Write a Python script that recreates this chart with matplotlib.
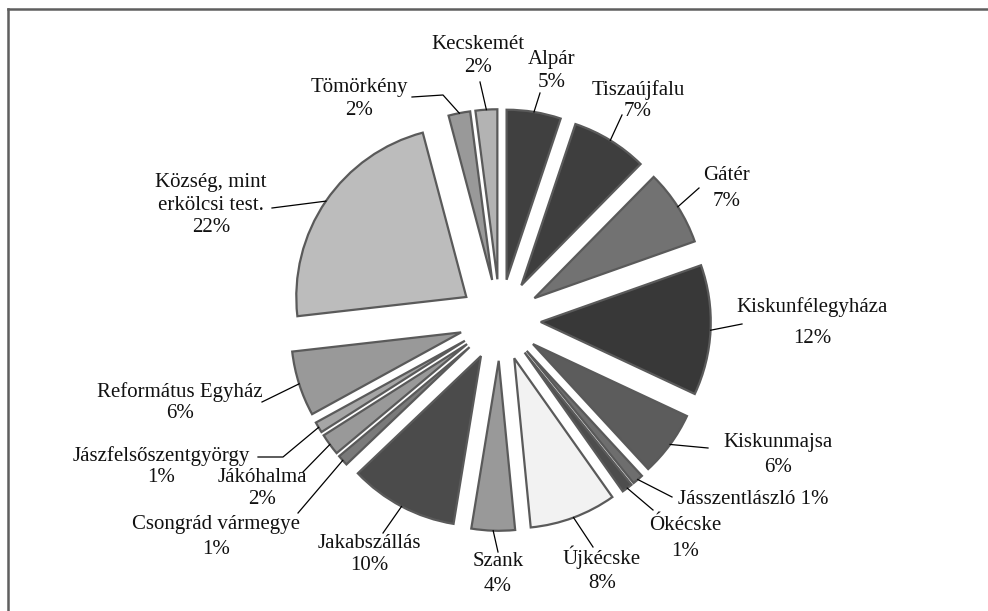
import matplotlib.pyplot as plt
import numpy as np

plt.rcParams['font.family'] = ['Liberation Serif', 'DejaVu Serif']

names = ['Alpár', 'Tiszaújfalu', 'Gátér', 'Kiskunfélegyháza', 'Kiskunmajsa',
         'Jásszentlászló', 'Ókécske', 'Újkécske', 'Szank', 'Jakabszállás',
         'Csongrád vármegye', 'Jákóhalma', 'Jászfelsőszentgyörgy',
         'Református Egyház', 'Község, mint\nerkölcsi test.', 'Tömörkény',
         'Kecskemét']
shares = [5, 7, 7, 12, 6, 1, 1, 8, 4, 10, 1, 2, 1, 6, 22, 2, 2]
colors = ['#404040', '#3e3e3e', '#727272', '#383838', '#5c5c5c', '#6e6e6e',
          '#4d4d4d', '#f2f2f2', '#999999', '#4b4b4b', '#7a7a7a', '#999999',
          '#a6a6a6', '#999999', '#bcbcbc', '#999999', '#b3b3b3']

W, H = 988, 611
CX, CY, R = 500, 320, 170   # pie centre / radius in pixels


def px(x, y):
    # pixel position (from top-left) -> data coords
    return (x - CX) / R, (CY - y) / R


# label layout in pixels: text centre, line step, leader path (end first)
layout = [
    ((552, 71), 23, [(540, 93)]),
    ((638, 101), 22, [(622, 115)]),
    ((727, 189), 26, [(699, 188)]),
    ((812, 323), 31, [(742, 324)]),
    ((778, 455), 24, [(708, 448)]),
    ((753, 500), 23, [(672, 497)]),
    ((685, 539), 26, [(653, 510)]),
    ((602, 570), 26, [(593, 547)]),
    ((498, 574), 25, [(498, 552)]),
    ((369, 554), 22, [(383, 533)]),
    ((216, 537), 25, [(298, 513)]),
    ((262, 489), 22, [(303, 472)]),
    ((161, 467), 21, [(283, 457), (258, 457)]),
    ((180, 403), 21, [(262, 402)]),
    ((211, 205), 22.5, [(272, 208)]),
    ((359, 99), 23, [(443, 95), (412, 97)]),
    ((478, 56), 23, [(480, 82)]),
]

fig = plt.figure(figsize=(W / 100, H / 100), dpi=100)
ax = fig.add_axes([0, 0, 1, 1])

wedges, _ = ax.pie(shares, explode=[0.24] * len(shares), colors=colors,
                   startangle=90, counterclock=False,
                   wedgeprops=dict(edgecolor='#5a5a5a', linewidth=1.6))
ax.set_aspect('auto')
ax.set_xlim(px(0, 0)[0], px(W, 0)[0])
ax.set_ylim(px(0, H)[1], px(0, 0)[1])
ax.axis('off')

for w, name, v, (tpos, step, path) in zip(wedges, names, shares, layout):
    if name == 'Jásszentlászló':
        lines = [f'{name} {v}%']
    else:
        lines = name.split('\n') + [f'{v}%']
    y0 = tpos[1] - (len(lines) - 1) * step / 2
    for i, line in enumerate(lines):
        tx, ty = px(tpos[0], y0 + i * step)
        ax.text(tx, ty, line, ha='center', va='center', fontsize=15,
                color='#111111')
    # leader from the wedge's outer arc
    th = np.deg2rad((w.theta1 + w.theta2) / 2)
    ax0 = w.center[0] + w.r * np.cos(th)
    ay0 = w.center[1] + w.r * np.sin(th)
    xs = [ax0] + [px(*p)[0] for p in path]
    ys = [ay0] + [px(*p)[1] for p in path]
    ax.plot(xs, ys, color='black', lw=0.9)

# outer frame (only left and top edges are visible)
fig.add_artist(plt.Line2D([8 / W, 8 / W], [0, 1 - 9 / H],
                          transform=fig.transFigure, color='#5f5f5f', lw=1.8))
fig.add_artist(plt.Line2D([8 / W, 1], [1 - 9 / H, 1 - 9 / H],
                          transform=fig.transFigure, color='#5f5f5f', lw=1.8))

fig.savefig('out.png', dpi=100)
